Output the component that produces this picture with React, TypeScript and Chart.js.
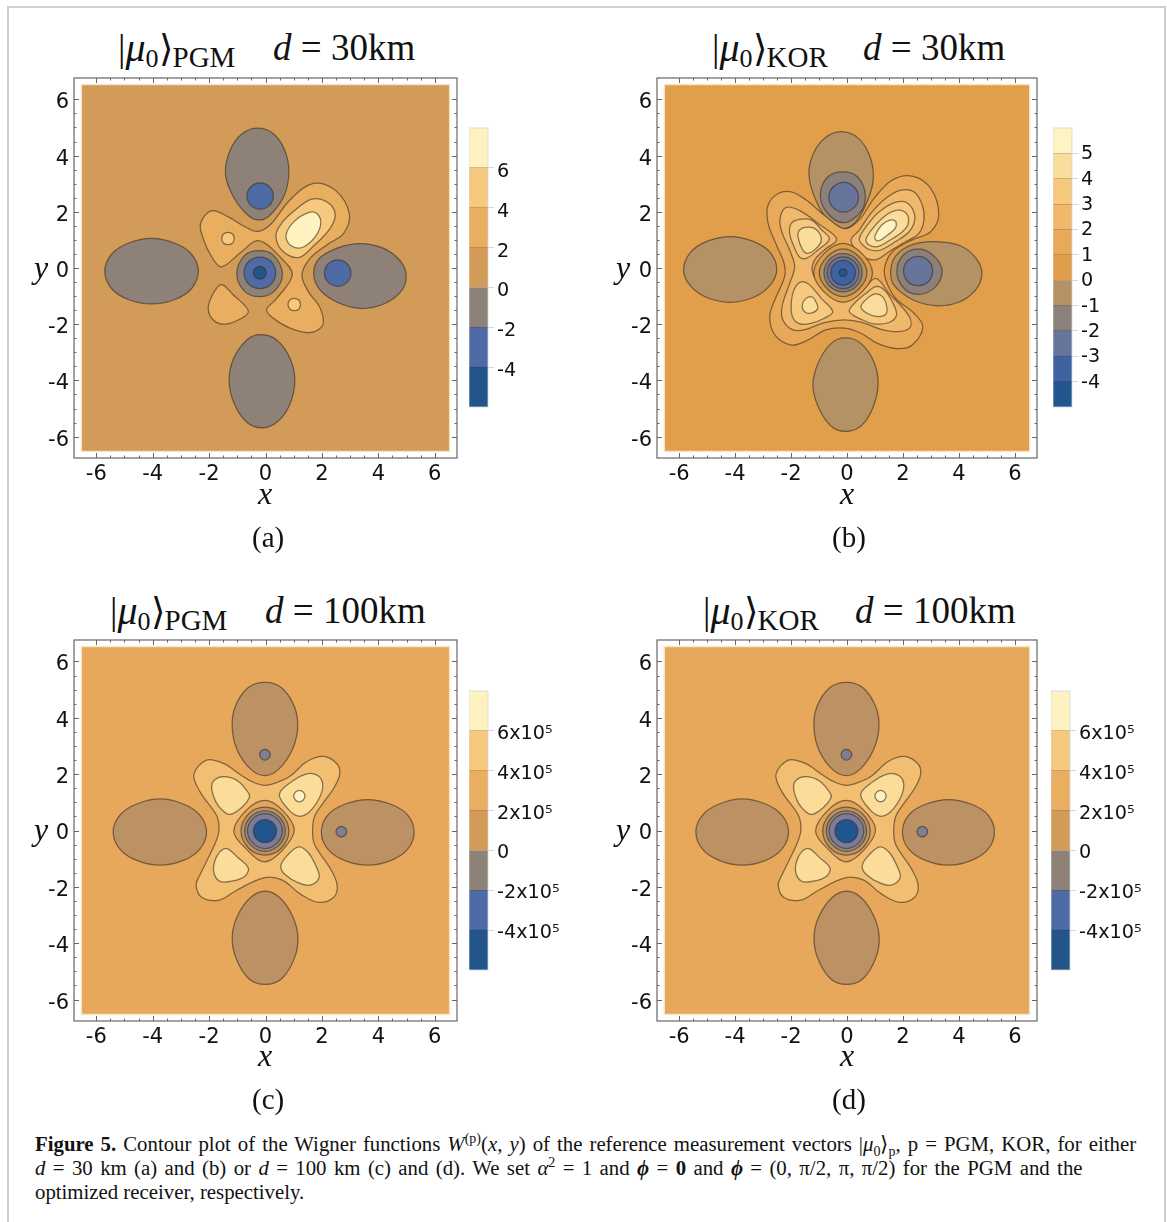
import React, { useEffect, useRef } from "react";
import { Chart, registerables } from "chart.js";

Chart.register(...registerables);

type Pt = [number, number];

// ---------- plot window and colour-bar values ----------
const XLIM = 6.79;
const YLIM = 6.76;
const FIELD = 6.53;
const fieldOutline: Pt[] = [[-FIELD, -FIELD], [FIELD, -FIELD], [FIELD, FIELD], [-FIELD, FIELD]];

const levels7 = [-6, -4, -2, 0, 2, 4, 6, 8];
const levels11 = [-5, -4, -3, -2, -1, 0, 1, 2, 3, 4, 5, 6];
const levels7e5 = [-600000, -400000, -200000, 0, 200000, 400000, 600000, 800000];
const ticksA = [-4, -2, 0, 2, 4, 6];
const ticksB = [-4, -3, -2, -1, 0, 1, 2, 3, 4, 5];
const ticksC = [-400000, -200000, 0, 200000, 400000, 600000];
const labelsA = ["-4", "-2", "0", "2", "4", "6"];
const labelsB = ["-4", "-3", "-2", "-1", "0", "1", "2", "3", "4", "5"];
const labelsC = ["-4x10⁵", "-2x10⁵", "0", "2x10⁵", "4x10⁵", "6x10⁵"];

const barColors7 = ["#23558B", "#4F6BA5", "#8D8178", "#D29B57", "#E9AE5F", "#F6C97F", "#FEF3C0"];
const barColors11 = ["#23558F", "#3F62A0", "#67749B", "#8B807C", "#B59166", "#E09E4B", "#E9A95A", "#F0B86C", "#F6C97F", "#FBDD9B", "#FEF3C3"];

// ---------- panel (a): contours ----------
const aLeft: Pt[] = [[-4.04,1.05],[-3.21,.88],[-2.62,.49],[-2.38,-.12],[-2.62,-.73],[-3.21,-1.12],[-4.04,-1.28],[-4.87,-1.12],[-5.46,-.73],[-5.70,-.12],[-5.46,.49],[-4.87,.88]];
const aRight: Pt[] = [[3.36,.87],[4.19,.70],[4.79,.24],[4.99,-.31],[4.79,-.85],[4.19,-1.28],[3.36,-1.44],[2.54,-1.22],[1.94,-.79],[1.71,-.24],[1.88,.31],[2.54,.71]];
const aTop: Pt[] = [[-.28,4.98],[.28,4.78],[.68,4.20],[.83,3.40],[.65,2.55],[.15,1.87],[-.23,1.71],[-.62,1.88],[-1.12,2.50],[-1.42,3.35],[-1.25,4.20],[-.83,4.78]];
const aBottom: Pt[] = [[-.19,-2.37],[.40,-2.56],[.88,-3.24],[1.04,-4.03],[.85,-4.88],[.40,-5.49],[-.13,-5.69],[-.66,-5.49],[-1.11,-4.82],[-1.29,-4.03],[-1.14,-3.24],[-.66,-2.56]];
const aDotTop: Pt[] = [[-.19,3.03],[.14,2.89],[.28,2.56],[.14,2.23],[-.19,2.09],[-.52,2.23],[-.66,2.56],[-.52,2.89]];
const aDotRight: Pt[] = [[2.56,.29],[2.89,.15],[3.03,-.18],[2.89,-.51],[2.56,-.65],[2.23,-.51],[2.09,-.18],[2.23,.15]];
const aCoreGray: Pt[] = [[-.22,.62],[.28,.46],[.60,-.21],[.30,-.84],[-.22,-1.02],[-.73,-.84],[-1.02,-.21],[-.73,.46]];
const aCoreBlue: Pt[] = [[-.20,.39],[.20,.23],[.36,-.17],[.20,-.57],[-.20,-.73],[-.60,-.57],[-.76,-.17],[-.60,.23]];
const aCoreDark: Pt[] = [[-.20,.06],[-.04,-.01],[.03,-.17],[-.04,-.33],[-.20,-.40],[-.36,-.33],[-.43,-.17],[-.36,-.01]];
const aBowtie: Pt[] = [[-1.91,2.04],[-1.32,1.82],[-.73,1.47],[-.29,1.30],[.16,1.53],[.87,2.42],[1.70,3.01],[2.47,2.77],[2.97,1.94],[2.77,1.23],[2.17,.82],[1.58,.34],[1.29,-.25],[1.52,-.84],[1.94,-1.43],[2.03,-2.03],[1.58,-2.30],[.87,-2.14],[.28,-1.79],[.04,-1.49],[.40,-1.08],[.95,-.25],[.57,.34],[-.25,.97],[-.85,.58],[-1.56,.04],[-1.91,.40],[-2.21,1.05],[-2.30,1.59]];
const aLowLeft: Pt[] = [[-1.56,-.59],[-1.14,-.96],[-.61,-1.52],[-.85,-1.79],[-1.44,-2.00],[-1.85,-1.85],[-2.03,-1.43],[-1.85,-.90]];
const aPeak4: Pt[] = [[1.64,2.45],[1.05,2.06],[.57,1.59],[.37,1.17],[.57,.64],[1.17,.37],[1.70,.78],[2.29,1.41],[2.47,1.94],[2.17,2.36]];
const aPeak6: Pt[] = [[1.52,1.97],[1.01,1.65],[.73,1.17],[.87,.82],[1.29,.73],[1.76,1.11],[1.96,1.59],[1.82,1.94]];
const aDotUL: Pt[] = [[-1.33,1.27],[-1.17,1.21],[-1.11,1.05],[-1.17,.89],[-1.33,.83],[-1.49,.89],[-1.55,1.05],[-1.49,1.21]];
const aDotLR: Pt[] = [[1.02,-1.08],[1.18,-1.14],[1.24,-1.30],[1.18,-1.46],[1.02,-1.52],[.86,-1.46],[.80,-1.30],[.86,-1.14]];

// ---------- panel (b) ----------
const bLeft: Pt[] = [[-4.18,1.12],[-3.35,.95],[-2.74,.55],[-2.51,-.06],[-2.76,-.63],[-3.35,-1.05],[-4.18,-1.22],[-5.01,-1.05],[-5.60,-.63],[-5.84,-.06],[-5.60,.55],[-5.01,.95]];
const bTop: Pt[] = [[-.21,4.85],[.40,4.62],[.82,3.97],[.94,3.17],[.73,2.38],[.32,1.65],[-.13,1.40],[-.63,1.65],[-1.10,2.38],[-1.36,3.30],[-1.22,4.03],[-.80,4.62]];
const bTopGray: Pt[] = [[-.15,3.42],[.38,3.24],[.65,2.63],[.50,2.01],[-.13,1.61],[-.75,2.01],[-.95,2.63],[-.69,3.24]];
const bTopBlue: Pt[] = [[-.12,3.05],[.25,2.89],[.41,2.52],[.25,2.15],[-.12,1.99],[-.49,2.15],[-.65,2.52],[-.49,2.89]];
const bBottom: Pt[] = [[-.06,-2.49],[.50,-2.69],[.97,-3.36],[1.11,-4.15],[.91,-5.01],[.50,-5.62],[-.06,-5.81],[-.57,-5.62],[-1.02,-4.95],[-1.22,-4.15],[-1.02,-3.36],[-.57,-2.69]];
const bRight: Pt[] = [[3.16,.94],[4.05,.79],[4.64,.31],[4.82,-.22],[4.59,-.79],[3.99,-1.22],[3.16,-1.34],[2.33,-1.12],[1.68,-.61],[1.56,-.12],[1.74,.43],[2.33,.83]];
const bRightGray: Pt[] = [[2.63,.67],[3.16,.37],[3.40,-.12],[3.16,-.67],[2.57,-.94],[2.04,-.73],[1.78,-.12],[2.04,.49]];
const bRightBlue: Pt[] = [[2.54,.41],[2.91,.26],[3.06,-.11],[2.91,-.48],[2.54,-.63],[2.17,-.48],[2.02,-.11],[2.17,.26]];
const bFlower: Pt[] = [[-.09,1.40],[.44,1.71],[.97,2.48],[1.62,3.13],[2.33,3.27],[2.99,2.83],[3.28,1.90],[2.99,1.29],[2.33,1.00],[1.62,.58],[1.35,.05],[1.39,-.43],[1.74,-1.08],[2.39,-1.61],[2.71,-2.09],[2.33,-2.74],[1.80,-2.87],[1.09,-2.68],[.50,-2.32],[-.09,-2.14],[-.75,-2.20],[-1.40,-2.56],[-1.99,-2.74],[-2.58,-2.38],[-2.76,-1.73],[-2.58,-1.14],[-2.23,-.31],[-2.25,.17],[-2.52,.82],[-2.82,1.59],[-2.82,2.24],[-2.46,2.65],[-1.99,2.71],[-1.46,2.42],[-.81,1.88]];
const bArc2: Pt[] = [[-2.17,2.16],[-1.69,2.04],[-1.04,1.59],[-.37,1.03],[-.81,.64],[-1.16,.28],[-1.24,-.13],[-.92,-.66],[-.45,-1.02],[.02,-1.16],[.56,-.78],[1.03,-.37],[1.50,-.90],[2.19,-1.67],[2.27,-2.09],[1.86,-2.26],[1.21,-2.18],[.56,-1.94],[-.09,-1.85],[-.81,-1.94],[-1.46,-2.18],[-1.93,-2.20],[-2.29,-1.85],[-2.32,-1.37],[-2.05,-.55],[-1.87,.05],[-2.05,.64],[-2.35,1.35],[-2.38,1.82]];
const bUR2: Pt[] = [[.14,1.0],[.44,1.35],[.85,1.94],[1.39,2.48],[1.92,2.77],[2.39,2.71],[2.69,2.24],[2.75,1.71],[2.57,1.23],[2.10,.94],[1.50,.58],[1.09,.31],[.68,.34],[.32,.64]];
const bUR3: Pt[] = [[.44,1.05],[.73,1.53],[1.15,2.0],[1.62,2.30],[2.04,2.36],[2.33,2.12],[2.42,1.71],[2.22,1.29],[1.74,.94],[1.21,.64],[.85,.64],[.56,.82]];
const bUR4: Pt[] = [[.68,1.02],[.97,1.47],[1.39,1.88],[1.80,2.06],[2.12,1.94],[2.19,1.59],[1.98,1.29],[1.50,.97],[1.09,.76],[.79,.82]];
const bUR5: Pt[] = [[1.01,1.17],[1.24,1.53],[1.56,1.71],[1.74,1.65],[1.72,1.41],[1.45,1.17],[1.15,.97],[1.01,1.02]];
const bUL3: Pt[] = [[-2.05,1.23],[-1.99,1.59],[-1.69,1.73],[-1.28,1.71],[-.92,1.37],[-.63,1.03],[-1.04,.64],[-1.46,.34],[-1.69,.38],[-1.87,.70]];
const bUL4: Pt[] = [[-1.75,1.11],[-1.69,1.35],[-1.40,1.45],[-1.10,1.37],[-.92,1.05],[-1.04,.76],[-1.40,.52],[-1.58,.64]];
const bLL3: Pt[] = [[-1.64,-.49],[-1.34,-.60],[-.92,-1.08],[-.51,-1.55],[-.81,-1.79],[-1.28,-1.97],[-1.69,-1.99],[-1.95,-1.73],[-1.99,-1.20],[-1.87,-.72]];
const bLL4: Pt[] = [[-1.46,-1.08],[-1.22,-1.04],[-1.10,-1.23],[-1.04,-1.43],[-1.22,-1.59],[-1.46,-1.59],[-1.60,-1.37]];
const bLR3: Pt[] = [[1.03,-.66],[1.33,-.78],[1.62,-1.20],[1.77,-1.67],[1.50,-1.94],[.97,-1.99],[.56,-1.85],[.08,-1.55],[.32,-1.20],[.68,-.90]];
const bLR4: Pt[] = [[1.01,-.92],[1.27,-1.02],[1.42,-1.37],[1.39,-1.64],[1.09,-1.73],[.68,-1.59],[.50,-1.37],[.73,-1.08]];
const bCore1: Pt[] = [[-.14,.88],[.54,.51],[.91,-.17],[.54,-.85],[-.14,-1.22],[-.82,-.85],[-1.19,-.17],[-.82,.51]];
const bCore2: Pt[] = [[-.14,.68],[.43,.40],[.71,-.17],[.43,-.74],[-.14,-1.02],[-.71,-.74],[-.99,-.17],[-.71,.40]];
const bCore3: Pt[] = [[-.14,.51],[.34,.31],[.54,-.17],[.34,-.65],[-.14,-.85],[-.62,-.65],[-.82,-.17],[-.62,.31]];
const bCore4: Pt[] = [[-.14,.40],[.26,.23],[.43,-.17],[.26,-.57],[-.14,-.74],[-.54,-.57],[-.71,-.17],[-.54,.23]];
const bCore5: Pt[] = [[-.14,.27],[.17,.14],[.30,-.17],[.17,-.48],[-.14,-.61],[-.45,-.48],[-.58,-.17],[-.45,.14]];
const bCore6: Pt[] = [[-.14,-.03],[-.04,-.07],[0,-.17],[-.04,-.27],[-.14,-.31],[-.24,-.27],[-.28,-.17],[-.24,-.07]];

// ---------- panels (c) and (d) ----------
const cTop: Pt[] = [[-.02,5.26],[.58,5.06],[1.03,4.38],[1.14,3.64],[.94,2.85],[.46,2.17],[-.02,1.95],[-.52,2.17],[-1.0,2.85],[-1.18,3.64],[-1.08,4.38],[-.63,5.06]];
const cBottom: Pt[] = [[-.01,-2.15],[.49,-2.37],[.96,-3.04],[1.15,-3.78],[1.03,-4.52],[.58,-5.25],[-.01,-5.46],[-.60,-5.25],[-1.05,-4.52],[-1.18,-3.78],[-1.0,-3.04],[-.52,-2.37]];
const cLeft: Pt[] = [[-3.74,1.12],[-2.91,.94],[-2.32,.54],[-2.09,-.05],[-2.32,-.65],[-2.91,-1.06],[-3.74,-1.23],[-4.57,-1.06],[-5.17,-.65],[-5.40,-.05],[-5.17,.54],[-4.57,.94]];
const cRight: Pt[] = [[3.63,1.10],[4.45,.93],[5.05,.54],[5.27,-.05],[5.05,-.65],[4.45,-1.06],[3.63,-1.23],[2.80,-1.06],[2.20,-.65],[1.98,-.05],[2.20,.54],[2.80,.93]];
const cDotTop: Pt[] = [[-.02,2.88],[.11,2.82],[.17,2.69],[.11,2.56],[-.02,2.50],[-.15,2.56],[-.21,2.69],[-.15,2.82]];
const cDotRight: Pt[] = [[2.69,.15],[2.82,.09],[2.88,-.04],[2.82,-.17],[2.69,-.23],[2.56,-.17],[2.50,-.04],[2.56,.09]];
const cFlower: Pt[] = [[-2.09,2.50],[-1.49,2.38],[-.90,1.99],[-.45,1.72],[-.01,1.60],[.45,1.72],[.88,1.93],[1.47,2.45],[2.06,2.63],[2.54,2.36],[2.63,1.99],[2.42,1.50],[2.06,1.0],[1.74,.50],[1.67,0],[1.74,-.50],[2.32,-1.39],[2.54,-1.94],[2.42,-2.37],[1.88,-2.55],[1.23,-2.25],[.58,-1.75],[-.07,-1.68],[-1.02,-2.12],[-1.64,-2.47],[-2.26,-2.37],[-2.46,-1.94],[-2.32,-1.57],[-1.79,-.47],[-1.65,0],[-1.73,.52],[-2.32,1.37],[-2.54,1.99]];
const cUL: Pt[] = [[-1.91,1.52],[-1.79,1.81],[-1.44,1.91],[-.97,1.75],[-.61,1.34],[-.57,1.16],[-.85,.81],[-1.26,.57],[-1.50,.69],[-1.74,.98]];
const cUR: Pt[] = [[.49,1.28],[.87,1.69],[1.46,2.01],[1.88,1.93],[2.03,1.58],[1.88,1.10],[1.52,.63],[1.17,.51],[.81,.75]];
const cTiny: Pt[] = [[1.20,1.42],[1.34,1.36],[1.40,1.22],[1.34,1.08],[1.20,1.02],[1.06,1.08],[1.00,1.22],[1.06,1.36]];
const cLL: Pt[] = [[-1.36,-.64],[-.97,-.97],[-.61,-1.33],[-.73,-1.62],[-1.20,-1.80],[-1.62,-1.80],[-1.83,-1.50],[-1.80,-1.09],[-1.62,-.76]];
const cLR: Pt[] = [[1.17,-.58],[1.52,-.79],[1.82,-1.33],[1.90,-1.68],[1.58,-1.94],[1.17,-1.86],[.69,-1.56],[.54,-1.27],[.75,-.91]];
const cCore1: Pt[] = [[-.02,1.07],[.57,.75],[1.02,.04],[.63,-.67],[-.02,-1.11],[-.67,-.67],[-1.12,0],[-.65,.75]];
const cCore2: Pt[] = [[-.02,.83],[.55,.60],[.83,-.02],[.55,-.64],[-.02,-.87],[-.59,-.64],[-.87,-.02],[-.59,.60]];
const cCore3: Pt[] = [[-.02,.70],[.48,.49],[.70,-.02],[.48,-.52],[-.02,-.74],[-.52,-.52],[-.74,-.02],[-.52,.49]];
const cCore4: Pt[] = [[-.02,.60],[.41,.42],[.60,-.02],[.41,-.45],[-.02,-.64],[-.45,-.45],[-.64,-.02],[-.45,.42]];
const cCore5: Pt[] = [[-.02,.39],[.27,.27],[.39,-.02],[.27,-.31],[-.02,-.43],[-.31,-.31],[-.43,-.02],[-.31,.27]];

// ---------- which contour gets which fill, back to front ----------
const contoursA: [Pt[], string][] = [
  [aLeft, "#8D8178"], [aRight, "#8D8178"], [aTop, "#8D8178"], [aBottom, "#8D8178"],
  [aDotTop, "#4F6BA5"], [aDotRight, "#4F6BA5"],
  [aBowtie, "#E9AE5F"], [aLowLeft, "#E9AE5F"], [aPeak4, "#F6C97F"], [aPeak6, "#FEF3C0"],
  [aDotUL, "#F6C97F"], [aDotLR, "#F6C97F"],
  [aCoreGray, "#8D8178"], [aCoreBlue, "#4F6BA5"], [aCoreDark, "#23558B"],
];
const contoursB: [Pt[], string][] = [
  [bLeft, "#B59166"], [bTop, "#B59166"], [bBottom, "#B59166"], [bRight, "#B59166"],
  [bTopGray, "#8B807C"], [bTopBlue, "#67749B"], [bRightGray, "#8B807C"], [bRightBlue, "#67749B"],
  [bFlower, "#E9A95A"], [bArc2, "#F0B86C"], [bUR2, "#F0B86C"], [bUR3, "#F6C97F"], [bUR4, "#FBDD9B"], [bUR5, "#FEF3C3"],
  [bUL3, "#F6C97F"], [bUL4, "#FBDD9B"], [bLL3, "#F6C97F"], [bLL4, "#FBDD9B"], [bLR3, "#F6C97F"], [bLR4, "#FBDD9B"],
  [bCore1, "#E09E4B"], [bCore2, "#B59166"], [bCore3, "#8B807C"], [bCore4, "#67749B"], [bCore5, "#3F62A0"], [bCore6, "#23558F"],
];
const contoursC: [Pt[], string][] = [
  [cTop, "#BC9163"], [cBottom, "#BC9163"], [cLeft, "#BC9163"], [cRight, "#BC9163"],
  [cDotTop, "#7E7F95"], [cDotRight, "#7E7F95"],
  [cFlower, "#F2BF72"], [cUL, "#FBDD99"], [cUR, "#FBDD99"], [cTiny, "#FEF3C5"], [cLL, "#FBDD99"], [cLR, "#FBDD99"],
  [cCore1, "#E3A55A"], [cCore2, "#BC9163"], [cCore3, "#968A80"], [cCore4, "#7A7C9A"], [cCore5, "#21558F"],
];

const LINE = "rgba(62,48,34,0.62)";
const FONT = '"DejaVu Sans"';

// closes each contour: the line element joins last point to first, as on a radar
const closeLoops = {
  id: "closeLoops",
  afterDatasetsUpdate(chart: any) {
    chart.data.datasets.forEach((_: any, i: number) => {
      const line = chart.getDatasetMeta(i).dataset;
      if (!line) return;
      line._loop = true;
      line._fullLoop = true;
      line._pointsUpdated = false;
      line._path = undefined;
      line._segments = undefined;
    });
  },
};

// frame with inward ticks on all four sides
const frame = {
  id: "frame",
  afterDraw(chart: any) {
    const { ctx, chartArea: a, scales } = chart;
    ctx.save();
    ctx.strokeStyle = "#666";
    ctx.lineWidth = 1.2;
    ctx.strokeRect(a.left, a.top, a.right - a.left, a.bottom - a.top);
    ctx.lineWidth = 1;
    ctx.beginPath();
    for (const t of scales.x.ticks) {
      const px = Math.round(scales.x.getPixelForValue(t.value)) + 0.5;
      const l = Number.isInteger(t.value / 2) ? 5 : 2.5;
      ctx.moveTo(px, a.top); ctx.lineTo(px, a.top + l);
      ctx.moveTo(px, a.bottom); ctx.lineTo(px, a.bottom - l);
    }
    for (const t of scales.y.ticks) {
      const py = Math.round(scales.y.getPixelForValue(t.value)) + 0.5;
      const l = Number.isInteger(t.value / 2) ? 5 : 2.5;
      ctx.moveTo(a.left, py); ctx.lineTo(a.left + l, py);
      ctx.moveTo(a.right, py); ctx.lineTo(a.right - l, py);
    }
    ctx.stroke();
    ctx.restore();
  },
};

function ContourPlot({ left, top, width, height, bg, contours }: any) {
  const ref = useRef<HTMLCanvasElement>(null);
  useEffect(() => {
    const toXY = (p: Pt[]) => p.map(([x, y]) => ({ x, y }));
    const datasets: any[] = [
      { data: toXY(fieldOutline), fill: "shape", backgroundColor: bg, borderColor: "rgba(248,232,205,0.9)", borderWidth: 1.5, tension: 0, order: contours.length + 1 },
      ...contours.map(([p, c]: [Pt[], string], i: number) => ({
        data: toXY(p), fill: "shape", backgroundColor: c, borderColor: LINE, borderWidth: 1.25, tension: 0.36, order: contours.length - i,
      })),
    ];
    const axis = (lim: number, fit: string, size: number, pad: number, shift: number) => ({
      type: "linear", min: -lim, max: lim,
      grid: { display: false, drawTicks: false }, border: { display: false },
      afterBuildTicks: (s: any) => { s.ticks = s.ticks.filter((t: any) => Math.abs(t.value) <= 6.5); },
      afterFit: (s: any) => { s[fit] = size; s.paddingTop = 0; s.paddingBottom = 0; s.paddingLeft = 0; s.paddingRight = 0; },
      ticks: {
        stepSize: 0.5, autoSkip: false, maxRotation: 0, padding: pad, labelOffset: shift, color: "#111",
        font: { family: FONT, size: 21 },
        callback: (v: number) => (Number.isInteger(v / 2) ? String(v) : ""),
      },
    });
    const chart = new Chart(ref.current!, {
      type: "line",
      data: { datasets },
      options: {
        animation: false, responsive: false, events: [],
        layout: { padding: { top: 1, right: 1 } },
        elements: { point: { radius: 0 } },
        plugins: { legend: { display: false }, tooltip: { enabled: false } },
        scales: { x: axis(XLIM, "height", 30, 4, 0), y: axis(YLIM, "width", 70, 5, 3.5) },
      } as any,
      plugins: [closeLoops, frame],
    });
    return () => chart.destroy();
  }, []);
  return <canvas ref={ref} width={width + 71} height={height + 31} style={{ position: "absolute", left: left - 70, top: top - 1, display: "block" }} />;
}

function ColorBar({ left, top, height, levels, colors, ticks, labels, shift }: any) {
  const ref = useRef<HTMLCanvasElement>(null);
  useEffect(() => {
    const datasets = colors.map((c: string, i: number) => ({
      data: [[levels[i], levels[i + 1]]], backgroundColor: c, barPercentage: 1, categoryPercentage: 1, borderWidth: 0,
    }));
    const edge = {
      id: "edge",
      afterDraw(chart: any) {
        const { ctx, chartArea: a } = chart;
        ctx.save();
        ctx.strokeStyle = "rgba(205,215,215,0.8)";
        ctx.lineWidth = 1;
        ctx.strokeRect(a.left, a.top, a.right - a.left, a.bottom - a.top);
        ctx.restore();
      },
    };
    const chart = new Chart(ref.current!, {
      type: "bar",
      data: { labels: [""], datasets },
      options: {
        animation: false, responsive: false, events: [],
        layout: { padding: { top: 12, bottom: 12 } },
        plugins: { legend: { display: false }, tooltip: { enabled: false } },
        scales: {
          x: { display: false, stacked: true },
          y: {
            position: "right", min: levels[0], max: levels[levels.length - 1],
            border: { display: false },
            grid: { color: "rgba(60,50,40,0.2)", tickLength: 6, z: 1 },
            afterBuildTicks: (s: any) => { s.ticks = ticks.map((v: number) => ({ value: v })); },
            afterFit: (s: any) => { s.width = 90; s.paddingTop = 0; s.paddingBottom = 0; },
            ticks: {
              autoSkip: false, padding: 3, labelOffset: shift, color: "#111", font: { family: FONT, size: 19.2 },
              callback: (v: number) => labels[ticks.indexOf(v)],
            },
          },
        },
      } as any,
      plugins: [edge],
    });
    return () => chart.destroy();
  }, []);
  return <canvas ref={ref} width={109} height={height + 24} style={{ position: "absolute", left, top: top - 12, display: "block" }} />;
}

const SERIF = '"Liberation Serif", serif';
const abs = (left: number, top: number, size: number, extra: any = {}) => ({
  position: "absolute" as const, left, top, fontFamily: SERIF, fontSize: size, lineHeight: `${size}px`, whiteSpace: "nowrap" as const, color: "#111", ...extra,
});

function Title({ left, top, sub, dLeft, km }: any) {
  return (
    <>
      <div style={abs(left, top, 37)}>
        |<i style={{ fontSize: 40 }}>μ</i><span style={{ fontSize: 26, position: "relative", top: 6 }}>0</span>⟩
        <span style={{ fontSize: 29, position: "relative", top: 6 }}>{sub}</span>
      </div>
      <div style={abs(dLeft, top, 37)}><i>d</i> = {km}km</div>
    </>
  );
}

const Mark = ({ x, y, t }: any) => <div style={abs(x, y, 32, { fontStyle: "italic" })}>{t}</div>;
const SubLabel = ({ x, y, t }: any) => <div style={abs(x, y, 29)}>{t}</div>;
const supS = { fontSize: 14, lineHeight: 0 };

export default function App() {
  return (
    <div style={{ position: "absolute", left: 0, top: 0, width: 1167, height: 1222, overflow: "hidden", background: "#fff" }}>
      <div style={{ position: "absolute", left: 7, top: 6, width: 1155, height: 1230, border: "2px solid #cfcfcf" }} />

      <Title left={118} top={29} sub="PGM" dLeft={273} km="30" />
      <Title left={712} top={29} sub="KOR" dLeft={863} km="30" />
      <Title left={110} top={592} sub="PGM" dLeft={265} km="100" />
      <Title left={703} top={592} sub="KOR" dLeft={855} km="100" />

      <ContourPlot left={74} top={78} width={383} height={380} bg="#D29B57" contours={contoursA} />
      <ContourPlot left={657} top={78} width={380} height={380} bg="#E19F4C" contours={contoursB} />
      <ContourPlot left={74} top={640} width={383} height={381} bg="#E7A85B" contours={contoursC} />
      <ContourPlot left={657} top={640} width={380} height={381} bg="#E7A85B" contours={contoursC} />

      <ColorBar left={469} top={128} height={279} levels={levels7} colors={barColors7} ticks={ticksA} labels={labelsA} shift={4} />
      <ColorBar left={1053} top={128} height={279} levels={levels11} colors={barColors11} ticks={ticksB} labels={labelsB} shift={1} />
      <ColorBar left={469} top={691} height={279} levels={levels7e5} colors={barColors7} ticks={ticksC} labels={labelsC} shift={3} />
      <ColorBar left={1051} top={691} height={279} levels={levels7e5} colors={barColors7} ticks={ticksC} labels={labelsC} shift={3} />

      <Mark x={258} y={477} t="x" /><Mark x={840} y={477} t="x" />
      <Mark x={258} y={1039} t="x" /><Mark x={840} y={1039} t="x" />
      <Mark x={34} y={251} t="y" /><Mark x={616} y={251} t="y" />
      <Mark x={34} y={813} t="y" /><Mark x={616} y={813} t="y" />

      <SubLabel x={252} y={523} t="(a)" /><SubLabel x={832} y={523} t="(b)" />
      <SubLabel x={252} y={1085} t="(c)" /><SubLabel x={832} y={1085} t="(d)" />

      <div style={abs(35, 1134, 20.8, { wordSpacing: 1.85 })}>
        <b>Figure 5.</b> Contour plot of the Wigner functions <i>W</i><sup style={supS}>(p)</sup>(<i>x</i>, <i>y</i>) of the reference measurement vectors |<i>μ</i><sub style={supS}>0</sub>⟩<sub style={supS}>p</sub>, p = PGM, KOR, for either
      </div>
      <div style={abs(35, 1158, 20.8, { wordSpacing: 2.2 })}>
        <i>d</i> = 30 km (a) and (b) or <i>d</i> = 100 km (c) and (d). We set <i>α</i><sup style={supS}>2</sup> = 1 and <b><i>ϕ</i></b> = <b>0</b> and <b><i>ϕ</i></b> = (0, π/2, π, π/2) for the PGM and the
      </div>
      <div style={abs(35, 1182, 20.8)}>optimized receiver, respectively.</div>
    </div>
  );
}
